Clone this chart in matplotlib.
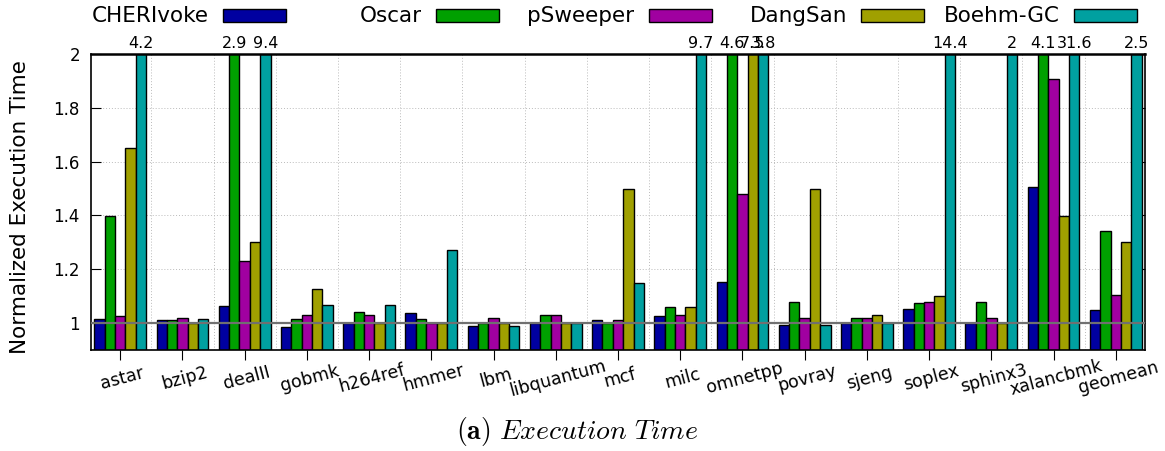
import numpy as np
import matplotlib.pyplot as plt
from matplotlib.patches import Rectangle

plt.rcParams['font.family'] = ['DejaVu Sans']
plt.rcParams['mathtext.fontset'] = 'cm'

benchmarks = ['astar', 'bzip2', 'dealII', 'gobmk', 'h264ref', 'hmmer', 'lbm',
              'libquantum', 'mcf', 'milc', 'omnetpp', 'povray', 'sjeng',
              'soplex', 'sphinx3', 'xalancbmk', 'geomean']

series_names = ['CHERIvoke', 'Oscar', 'pSweeper', 'DangSan', 'Boehm-GC']
colors = ['#0000a0', '#00a000', '#a000a0', '#a0a000', '#00a0a0']

cherivoke = [1.017, 1.012, 1.063, 0.984, 0.999, 1.036, 0.989, 1.0, 1.01,
             1.028, 1.152, 0.994, 1.0, 1.054, 1.0, 1.504, 1.047]
oscar = [1.399, 1.01, 2.9, 1.016, 1.04, 1.016, 1.0, 1.031, 1.0,
         1.061, 4.6, 1.077, 1.019, 1.076, 1.079, 4.1, 1.344]
psweeper = [1.025, 1.02, 1.229, 1.031, 1.031, 1.0, 1.02, 1.031, 1.01,
            1.031, 1.479, 1.02, 1.019, 1.08, 1.019, 1.908, 1.103]
dangsan = [1.649, 1.0, 1.30, 1.125, 1.0, 1.0, 1.0, 1.0, 1.499,
           1.061, 7.5, 1.499, 1.03, 1.099, 1.0, 1.399, 1.302]
boehm_gc = [4.2, 1.015, 9.4, 1.069, 1.067, 1.272, 0.989, 1.0, 1.15,
            9.7, 3.8, 0.994, 1.0, 14.4, 2.0, 31.6, 2.5]

all_series = [cherivoke, oscar, psweeper, dangsan, boehm_gc]

ymin, ymax = 0.9, 2.0
W, H = 1165, 451

fig = plt.figure(figsize=(W / 100, H / 100), dpi=100)
ax = fig.add_axes([91 / W, 1 - 350 / H, (1145 - 91) / W, (350 - 54) / H])

x = np.arange(len(benchmarks))
width = 1 / 6

for k, (vals, col) in enumerate(zip(all_series, colors)):
    pos = x + (k - 2) * width
    ax.bar(pos, vals, width, color=col, edgecolor='black', linewidth=1.0, zorder=2)
    # values off the top get a label
    for p, v in zip(pos, vals):
        if v >= ymax:
            ax.text(p, ymax + 0.01, f'{v:g}', ha='center', va='bottom', fontsize=11.5)

# baseline at 1
ax.axhline(1.0, color='#707070', linewidth=1.6, zorder=3)

# grid
for yv in [1.2, 1.4, 1.6, 1.8]:
    ax.axhline(yv, color='#bbbbbb', linewidth=0.7, linestyle=(0, (1, 2)), zorder=0)
for xv in x[:-1] + 0.5:
    ax.axvline(xv, color='#bbbbbb', linewidth=0.7, linestyle=(0, (1, 2)), zorder=0)

ax.set_xlim(-0.47, len(benchmarks) - 0.53)
ax.set_ylim(ymin, ymax)
ax.set_yticks([1, 1.2, 1.4, 1.6, 1.8, 2])
ax.set_yticklabels(['1', '1.2', '1.4', '1.6', '1.8', '2'], fontsize=12)
ax.tick_params(axis='y', direction='in', length=7, right=True, pad=8)
ax.set_xticks(x)
ax.set_xticklabels(benchmarks, fontsize=12.5, rotation=15, ha='center',
                   va='top', rotation_mode='anchor')
ax.tick_params(axis='x', direction='out', length=7, pad=7)
for s in ax.spines.values():
    s.set_linewidth(1.2)
ax.spines['top'].set_linewidth(1.8)

ax.set_ylabel('Normalized Execution Time', fontsize=15.5)
ax.yaxis.set_label_coords(-0.058, 0.483)

# gnuplot-style legend across the top: text then sample box
box_w, box_h = 63, 12
for k, (name, col) in enumerate(zip(series_names, colors)):
    right = 286 + k * 212.75
    left = right - box_w
    fig.patches.append(Rectangle((left / W, 1 - 21.5 / H), box_w / W, box_h / H,
                                 facecolor=col, edgecolor='black', linewidth=1.0,
                                 transform=fig.transFigure))
    fig.text((left - 14) / W, 1 - 16 / H, name, ha='right', va='center', fontsize=15.5)

fig.text(577 / W, 1 - 432 / H, r'$\mathbf{(a)}\ \mathit{Execution\ Time}$',
         ha='center', va='center', fontsize=20)

fig.savefig('out.png', dpi=100)
